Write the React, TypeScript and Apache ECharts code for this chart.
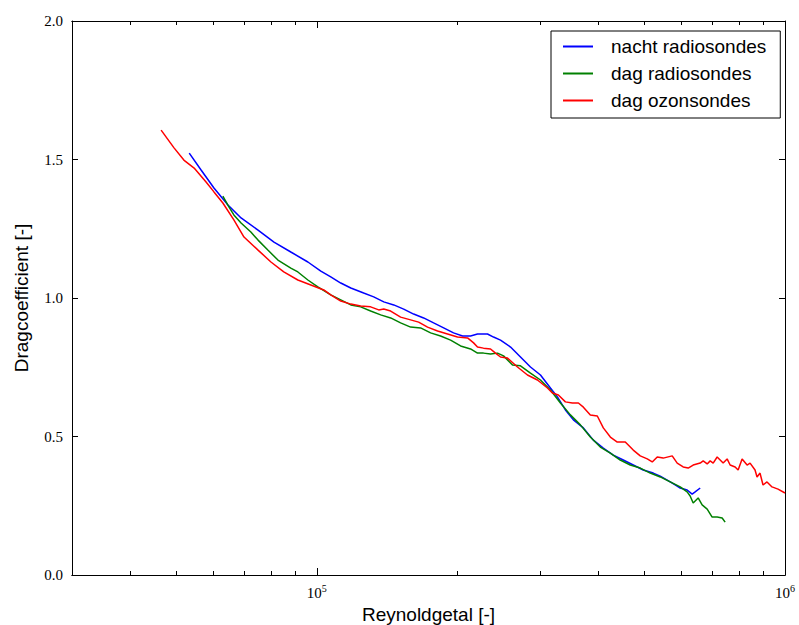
import React, { useEffect, useRef } from "react";
import * as echarts from "echarts";

// Reynolds number (x) and drag coefficient (y) pairs
const nachtRadiosondes: [number, number][] = [
  [53400, 1.523], [56600, 1.462], [60300, 1.397], [64600, 1.336], [68900, 1.289],
  [74900, 1.245], [81000, 1.202], [88000, 1.166], [95700, 1.13], [102000, 1.097],
  [107100, 1.076], [112500, 1.054], [118200, 1.036], [125900, 1.018], [132300, 1.004],
  [139000, 0.986], [146000, 0.975], [153300, 0.96], [161000, 0.942], [169100, 0.928],
  [177600, 0.91], [186600, 0.892], [195900, 0.874], [204800, 0.863], [213000, 0.863],
  [220400, 0.87], [231500, 0.87], [238500, 0.859], [246800, 0.848], [259300, 0.823],
  [272300, 0.787], [286000, 0.751], [300400, 0.722], [315500, 0.675], [326500, 0.643],
  [339600, 0.596], [353200, 0.56], [371000, 0.531], [389600, 0.487], [409200, 0.458],
  [429800, 0.433], [451400, 0.415], [474100, 0.397], [498000, 0.379], [523100, 0.368],
  [541400, 0.357], [568600, 0.336], [582700, 0.325], [597200, 0.314], [618000, 0.307],
  [633400, 0.292], [642800, 0.3], [659000, 0.314],
];

const dagRadiosondes: [number, number][] = [
  [63000, 1.368], [64900, 1.329], [66500, 1.3], [68900, 1.271], [72300, 1.238],
  [74900, 1.209], [78600, 1.173], [82600, 1.137], [88000, 1.108], [91100, 1.094],
  [95700, 1.065], [100500, 1.04], [107100, 1.011], [112500, 0.993], [118200, 0.975],
  [124100, 0.968], [130300, 0.953], [136900, 0.939], [143800, 0.928], [151000, 0.91],
  [158600, 0.895], [166600, 0.892], [175000, 0.874], [183800, 0.863], [193100, 0.848],
  [202800, 0.827], [213000, 0.816], [220400, 0.801], [227000, 0.801], [235000, 0.798],
  [243200, 0.801], [250500, 0.791], [261800, 0.758], [272300, 0.755], [286000, 0.729],
  [300400, 0.704], [315500, 0.668], [331400, 0.621], [348000, 0.578], [365500, 0.542],
  [383900, 0.498], [403200, 0.462], [423600, 0.44], [444700, 0.415], [467200, 0.397],
  [490700, 0.386], [515400, 0.368], [541400, 0.354], [568600, 0.336], [597200, 0.318],
  [618000, 0.3], [627200, 0.285], [636600, 0.26], [652400, 0.278], [665300, 0.253],
  [682000, 0.238], [698900, 0.209], [716300, 0.209], [734100, 0.206], [745000, 0.191],
];

const dagOzonsondes: [number, number][] = [
  [46500, 1.606], [49550, 1.542], [52000, 1.498], [54700, 1.469], [58000, 1.419],
  [60300, 1.383], [63000, 1.343], [66500, 1.282], [69900, 1.22], [74900, 1.173],
  [79800, 1.13], [85000, 1.094], [91100, 1.065], [97100, 1.047], [103500, 1.029],
  [107100, 1.011], [112500, 0.989], [118200, 0.978], [124100, 0.971], [130300, 0.968],
  [135600, 0.957], [139000, 0.96], [143800, 0.953], [151000, 0.931], [158600, 0.921],
  [165000, 0.913], [172400, 0.895], [181100, 0.881], [190200, 0.87], [199800, 0.859],
  [209900, 0.856], [216200, 0.838], [220400, 0.823], [227000, 0.819], [235000, 0.816],
  [240800, 0.801], [246800, 0.787], [255400, 0.783], [268300, 0.751], [281800, 0.722],
  [296000, 0.704], [310900, 0.675], [318600, 0.657], [328100, 0.65], [339600, 0.625],
  [351400, 0.621], [362000, 0.621], [371000, 0.606], [383900, 0.578], [397300, 0.574],
  [409200, 0.531], [423600, 0.498], [438300, 0.48], [455900, 0.48], [474100, 0.451],
  [490700, 0.43], [507900, 0.419], [520500, 0.408], [533500, 0.426], [549400, 0.422],
  [574200, 0.43], [588500, 0.404], [606100, 0.39], [621200, 0.386], [636600, 0.397],
  [659000, 0.404], [668700, 0.412], [682000, 0.401], [692100, 0.412], [702400, 0.404],
  [716300, 0.426], [726900, 0.415], [737700, 0.404], [752300, 0.419], [763500, 0.397],
  [782500, 0.39], [794100, 0.379], [809800, 0.419], [829900, 0.397], [842200, 0.404],
  [863000, 0.379], [871500, 0.354], [884400, 0.368], [897600, 0.325], [915300, 0.336],
  [938200, 0.318], [966300, 0.31], [1000000, 0.296],
];

const seriesNames = ["nacht radiosondes", "dag radiosondes", "dag ozonsondes"];
const seriesColors = ["#0000ff", "#008000", "#ff0000"];

const xMajorTicks = [1e5, 1e6];
const xMinorTicks = [4e4, 5e4, 6e4, 7e4, 8e4, 9e4, 2e5, 3e5, 4e5, 5e5, 6e5, 7e5, 8e5, 9e5];
const xMin = 3e4;
const xMax = 1e6;
const yMin = 0;
const yMax = 2;
const yInterval = 0.5;

const xTitle = "Reynoldgetal [-]";
const yTitle = "Dragcoefficient [-]";

export default function App() {
  const ref = useRef<HTMLDivElement>(null);

  useEffect(() => {
    if (!ref.current) return;
    const chart = echarts.init(ref.current, null, { renderer: "svg" });
    const serif = "'Liberation Serif', 'DejaVu Serif', serif";
    const sans = "'Liberation Sans', Arial, sans-serif";

    const baseX = (pos: "bottom" | "top", ticks: number[], len: number, labels: boolean, name: boolean) => ({
      type: "log" as const,
      logBase: 10,
      min: xMin,
      max: xMax,
      position: pos,
      gridIndex: 0,
      name: name ? xTitle : "",
      nameLocation: "middle" as const,
      nameGap: 27,
      nameTextStyle: { fontFamily: sans, fontSize: 19, color: "#000" },
      axisLine: { show: true, onZero: false, lineStyle: { color: "#000", width: 1 } },
      axisTick: {
        show: true,
        inside: true,
        length: len,
        customValues: ticks,
        lineStyle: { color: "#000", width: 1 },
      },
      minorTick: { show: false },
      splitLine: { show: false },
      axisLabel: labels
        ? {
            show: true,
            customValues: xMajorTicks,
            margin: 8,
            formatter: (v: number) => {
              const e = Math.round(Math.log10(v));
              return `{b|10}{s|${e}}`;
            },
            rich: {
              b: { fontFamily: serif, fontSize: 15, color: "#000" },
              s: { fontFamily: serif, fontSize: 10, color: "#000", verticalAlign: "bottom", padding: [0, 0, 10, 0] },
            },
          }
        : { show: false },
    });

    const baseY = (pos: "left" | "right", labels: boolean) => ({
      type: "value" as const,
      min: yMin,
      max: yMax,
      interval: yInterval,
      position: pos,
      name: labels ? yTitle : "",
      nameLocation: "middle" as const,
      nameGap: 41,
      nameTextStyle: { fontFamily: sans, fontSize: 19, color: "#000" },
      axisLine: { show: true, onZero: false, lineStyle: { color: "#000", width: 1 } },
      axisTick: { show: true, inside: true, length: 6, lineStyle: { color: "#000", width: 1 } },
      splitLine: { show: false },
      axisLabel: labels
        ? {
            show: true,
            margin: 9,
            fontFamily: serif,
            fontSize: 15,
            color: "#000",
            formatter: (v: number) => v.toFixed(1),
          }
        : { show: false },
    });

    const datasets = [nachtRadiosondes, dagRadiosondes, dagOzonsondes];

    chart.setOption({
      animation: false,
      backgroundColor: "#fff",
      grid: {
        left: 72,
        right: 14,
        top: 21,
        bottom: 50,
        show: false,
        containLabel: false,
        outerBoundsMode: "none",
      },
      legend: {
        orient: "vertical",
        left: 551,
        top: 31,
        data: seriesNames,
        icon: "rect",
        backgroundColor: "#fff",
        borderColor: "#000",
        borderWidth: 1,
        borderRadius: 0,
        padding: [6, 14, 8, 12],
        itemWidth: 30,
        itemHeight: 2,
        itemGap: 8,
        textStyle: { fontFamily: sans, fontSize: 19, color: "#000", padding: [0, 0, 0, 13] },
      },
      xAxis: [
        baseX("bottom", xMajorTicks, 7, true, true),
        baseX("bottom", xMinorTicks, 4, false, false),
        baseX("top", xMajorTicks, 7, false, false),
        baseX("top", xMinorTicks, 4, false, false),
      ],
      yAxis: [baseY("left", true), baseY("right", false)],
      series: datasets.map((d, i) => ({
        type: "line",
        name: seriesNames[i],
        data: d,
        xAxisIndex: 0,
        yAxisIndex: 0,
        symbol: "none",
        showSymbol: false,
        lineStyle: { color: seriesColors[i], width: 1.5 },
        itemStyle: { color: seriesColors[i] },
      })),
    });

    return () => chart.dispose();
  }, []);

  return (
    <div
      ref={ref}
      style={{ position: "fixed", left: 0, top: 0, width: 799, height: 625, background: "#fff" }}
    />
  );
}
